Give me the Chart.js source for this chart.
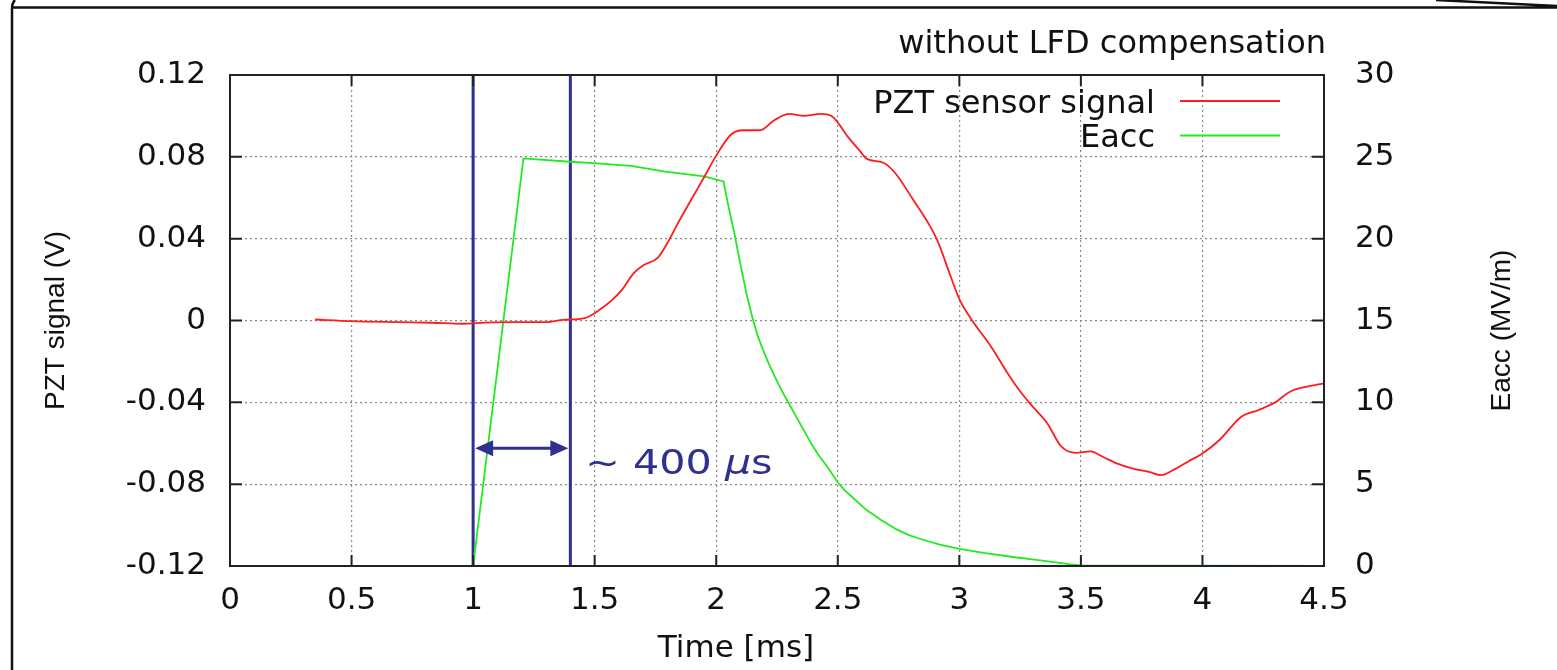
<!DOCTYPE html>
<html>
<head>
<meta charset="utf-8">
<script src="https://cdn.jsdelivr.net/npm/chart.js@4.4.1/dist/chart.umd.min.js"></script>
<style>
  html, body { margin: 0; padding: 0; background: #fff; }
  #wrap { width: 1557px; height: 670px; }
</style>
</head>
<body>
<div id="wrap"><canvas id="lfdChart" width="1557" height="670"></canvas></div>
<script>
// PZT sensor signal, time in ms, signal in V
var pztTime = [0.35, 0.5, 0.69, 0.83, 0.96, 1.05, 1.17, 1.3, 1.37, 1.44, 1.47, 1.52, 1.57, 1.61, 1.66, 1.70,
    1.76, 1.80, 1.84, 1.90, 1.95, 2.0, 2.06, 2.11, 2.18, 2.24, 2.30, 2.36, 2.43, 2.48, 2.54, 2.59, 2.62,
    2.69, 2.74, 2.81, 2.88, 2.91, 2.96, 3.0, 3.05, 3.13, 3.2, 3.24, 3.29, 3.36, 3.42, 3.48, 3.54, 3.59,
    3.65, 3.71, 3.78, 3.83, 3.88, 3.94, 4.0, 4.07, 4.16, 4.23, 4.30, 4.36, 4.43, 4.5];
var pztSignal = [0.0005, -0.0003, -0.0008, -0.0011, -0.0016, -0.001, -0.0008, -0.0008, 0.0003, 0.0008,
    0.0016, 0.0052, 0.0098, 0.0147, 0.023, 0.027, 0.0307, 0.038, 0.047, 0.0596, 0.070, 0.0806, 0.0908,
    0.093, 0.093, 0.098, 0.101, 0.100, 0.101, 0.0995, 0.090, 0.083, 0.079, 0.077, 0.0715, 0.059, 0.046,
    0.039, 0.023, 0.0105, 0.0005, -0.0127, -0.026, -0.033, -0.0405, -0.050, -0.0617, -0.0647, -0.064,
    -0.0666, -0.070, -0.0723, -0.074, -0.0756, -0.0731, -0.069, -0.065, -0.0584, -0.047, -0.0438, -0.040,
    -0.0348, -0.0323, -0.0307];

// accelerating field, MV/m
var eaccTime = [0.35, 1.0, 1.207, 1.4, 1.51, 1.65, 1.79, 1.95, 2.03, 2.05, 2.075, 2.10, 2.125, 2.15,
    2.17, 2.19, 2.215, 2.24, 2.27, 2.30, 2.33, 2.36, 2.39, 2.42, 2.46, 2.5, 2.53, 2.56, 2.59, 2.62,
    2.65, 2.68, 2.74, 2.79, 2.84, 2.92, 3.0, 3.1, 3.22, 3.3, 3.39, 3.45, 3.5, 4.5];
var eaccField = [0, 0, 24.9, 24.7, 24.6, 24.45, 24.1, 23.8, 23.5, 22.0, 20.3, 18.4, 16.6, 15.1,
    14.1, 13.3, 12.4, 11.6, 10.7, 9.9, 9.1, 8.3, 7.5, 6.8, 6.0, 5.1, 4.6, 4.2, 3.8, 3.4,
    3.1, 2.8, 2.25, 1.9, 1.65, 1.3, 1.05, 0.8, 0.55, 0.4, 0.24, 0.12, 0.04, 0];

// delay markers (ms) and the arrow between them (V)
var markerTimes = [1.0, 1.4];
var arrowLevel = -0.0625;
var delayLabel = '~ 400 ';

var xTicks = [0, 0.5, 1, 1.5, 2, 2.5, 3, 3.5, 4, 4.5];
var yTicks = [-0.12, -0.08, -0.04, 0, 0.04, 0.08, 0.12];
var y1Ticks = [0, 5, 10, 15, 20, 25, 30];

var seriesLabels = ['PZT sensor signal', 'Eacc'];

var navy = '#2e3192';
var sansWide = '"DejaVu Sans", sans-serif';
var sansNarrow = '"Liberation Sans", Arial, sans-serif';

function toPoints(xs, ys) {
    return xs.map(function (x, i) { return { x: x, y: ys[i] }; });
}

function setTicks(list) {
    return function (scale) {
        scale.ticks = list.map(function (v) { return { value: v }; });
    };
}

var decor = {
    id: 'decor',
    beforeDraw: function (chart) {
        var ctx = chart.ctx;
        ctx.save();
        ctx.fillStyle = '#fff';
        ctx.fillRect(0, 0, chart.width, chart.height);
        // frame of the slide picture
        ctx.strokeStyle = '#111';
        ctx.lineWidth = 2.5;
        ctx.beginPath();
        ctx.moveTo(15, 0);
        ctx.quadraticCurveTo(12, 3, 12, 9);
        ctx.lineTo(12, chart.height);
        ctx.moveTo(12, 7.5);
        ctx.lineTo(chart.width, 7.5);
        ctx.moveTo(1436, 0);
        ctx.lineTo(chart.width, 6);
        ctx.stroke();
        ctx.restore();
    },
    afterDatasetsDraw: function (chart) {
        var ctx = chart.ctx;
        var a = chart.chartArea;
        var sx = chart.scales.x, sy = chart.scales.y, sy1 = chart.scales.y1;
        ctx.save();

        // plot box
        ctx.strokeStyle = '#222';
        ctx.lineWidth = 2;
        ctx.strokeRect(a.left, a.top, a.right - a.left, a.bottom - a.top);

        // inward ticks (gnuplot style)
        ctx.beginPath();
        sx.ticks.forEach(function (t) {
            var px = sx.getPixelForValue(t.value);
            if (px <= a.left + 1 || px >= a.right - 1) return;
            ctx.moveTo(px, a.bottom); ctx.lineTo(px, a.bottom - 11);
            ctx.moveTo(px, a.top); ctx.lineTo(px, a.top + 11);
        });
        sy.ticks.forEach(function (t) {
            var py = sy.getPixelForValue(t.value);
            if (py <= a.top + 1 || py >= a.bottom - 1) return;
            ctx.moveTo(a.left, py); ctx.lineTo(a.left + 12, py);
        });
        sy1.ticks.forEach(function (t) {
            var py = sy1.getPixelForValue(t.value);
            if (py <= a.top + 1 || py >= a.bottom - 1) return;
            ctx.moveTo(a.right, py); ctx.lineTo(a.right - 12, py);
        });
        ctx.stroke();

        // legend: text then line sample
        ctx.font = '32px ' + sansWide;
        ctx.textAlign = 'right';
        ctx.textBaseline = 'alphabetic';
        for (var i = 0; i < 2; i++) {
            var ds = chart.data.datasets[i];
            var ly = a.top + 26 + i * 34.5;
            ctx.fillStyle = '#111';
            ctx.fillText(ds.label, a.right - 169, ly + 11.5);
            ctx.strokeStyle = ds.borderColor;
            ctx.lineWidth = 2;
            ctx.beginPath();
            ctx.moveTo(a.right - 144, ly);
            ctx.lineTo(a.right - 44, ly);
            ctx.stroke();
        }

        // double arrow between the markers
        var ay = sy.getPixelForValue(arrowLevel);
        var x1 = sx.getPixelForValue(markerTimes[0]) + 2;
        var x2 = sx.getPixelForValue(markerTimes[1]) - 2;
        ctx.strokeStyle = navy;
        ctx.fillStyle = navy;
        ctx.lineWidth = 3;
        ctx.beginPath();
        ctx.moveTo(x1 + 10, ay); ctx.lineTo(x2 - 10, ay);
        ctx.stroke();
        ctx.beginPath();
        ctx.moveTo(x1, ay); ctx.lineTo(x1 + 18, ay - 8); ctx.lineTo(x1 + 18, ay + 8); ctx.closePath();
        ctx.moveTo(x2, ay); ctx.lineTo(x2 - 18, ay - 8); ctx.lineTo(x2 - 18, ay + 8); ctx.closePath();
        ctx.fill();

        // "~ 400 µs"
        ctx.save();
        ctx.translate(x2 + 17, ay + 26);
        ctx.scale(1.25, 1);
        ctx.textAlign = 'left';
        ctx.font = '33px ' + sansWide;
        ctx.fillText(delayLabel, 0, 0);
        var w = ctx.measureText(delayLabel).width;
        ctx.font = 'italic 33px ' + sansWide;
        ctx.fillText('\u03bc', w, 0);
        w += ctx.measureText('\u03bc').width;
        ctx.font = '33px ' + sansWide;
        ctx.fillText('s', w, 0);
        ctx.restore();

        // title and axis titles
        ctx.fillStyle = '#111';
        ctx.font = '32px ' + sansWide;
        ctx.textAlign = 'right';
        ctx.fillText('without LFD compensation', a.right + 2, 53);
        ctx.textAlign = 'center';
        ctx.font = '31px ' + sansWide;
        ctx.fillText('Time [ms]', 736, 657);

        ctx.save();
        ctx.translate(1502, (a.top + a.bottom) / 2 + 10);
        ctx.rotate(-Math.PI / 2);
        ctx.font = '28px ' + sansNarrow;
        ctx.textBaseline = 'middle';
        ctx.fillText('Eacc (MV/m)', 0, 0);
        ctx.restore();

        ctx.restore();
    }
};

var gridStyle = { color: '#8a8a8a', lineWidth: 1.2, drawTicks: false };
var tickFont = { family: sansWide, size: 31 };

var ctxLfd = document.getElementById('lfdChart');

var lfdChart = new Chart(ctxLfd, {
    type: 'line',
    data: {
        datasets: [{
            label: seriesLabels[0],
            data: toPoints(pztTime, pztSignal),
            borderColor: '#ff1c1c',
            borderWidth: 1.8,
            pointRadius: 0,
            cubicInterpolationMode: 'monotone',
            yAxisID: 'y'
        }, {
            label: seriesLabels[1],
            data: toPoints(eaccTime, eaccField),
            borderColor: '#22ea22',
            borderWidth: 1.8,
            pointRadius: 0,
            yAxisID: 'y1'
        }, {
            label: 'start',
            data: toPoints([markerTimes[0], markerTimes[0]], [yTicks[0], yTicks[yTicks.length - 1]]),
            borderColor: navy,
            borderWidth: 3,
            pointRadius: 0,
            yAxisID: 'y'
        }, {
            label: 'end',
            data: toPoints([markerTimes[1], markerTimes[1]], [yTicks[0], yTicks[yTicks.length - 1]]),
            borderColor: navy,
            borderWidth: 3,
            pointRadius: 0,
            yAxisID: 'y'
        }]
    },
    options: {
        responsive: false,
        animation: false,
        devicePixelRatio: 1,
        layout: { padding: { top: 75, left: 0, right: 0, bottom: 0 } },
        plugins: {
            legend: { display: false },
            title: { display: false },
            tooltip: { enabled: false }
        },
        scales: {
            x: {
                type: 'linear',
                position: 'bottom',
                min: 0,
                max: 4.5,
                afterBuildTicks: setTicks(xTicks),
                afterFit: function (s) { s.height = 104; },
                ticks: { font: tickFont, color: '#111', padding: 16, maxRotation: 0,
                    callback: function (v) { return String(v); } },
                grid: gridStyle,
                border: { display: false, dash: [2, 3] }
            },
            y: {
                position: 'left',
                min: -0.12,
                max: 0.12,
                afterBuildTicks: setTicks(yTicks),
                afterFit: function (s) { s.width = 230; },
                ticks: { font: tickFont, color: '#111', padding: 24,
                    callback: function (v) { return v === 0 ? '0' : v.toFixed(2); } },
                grid: gridStyle,
                border: { display: false, dash: [2, 3] },
                title: { display: true, text: 'PZT signal (V)', color: '#111',
                    font: { family: sansNarrow, size: 28 },
                    padding: { top: 39 } }
            },
            y1: {
                position: 'right',
                min: 0,
                max: 30,
                afterBuildTicks: setTicks(y1Ticks),
                afterFit: function (s) { s.width = 233; },
                ticks: { font: tickFont, color: '#111', padding: 31 },
                grid: { drawOnChartArea: false, drawTicks: false },
                border: { display: false }
            }
        }
    },
    plugins: [decor]
});
</script>
</body>
</html>
